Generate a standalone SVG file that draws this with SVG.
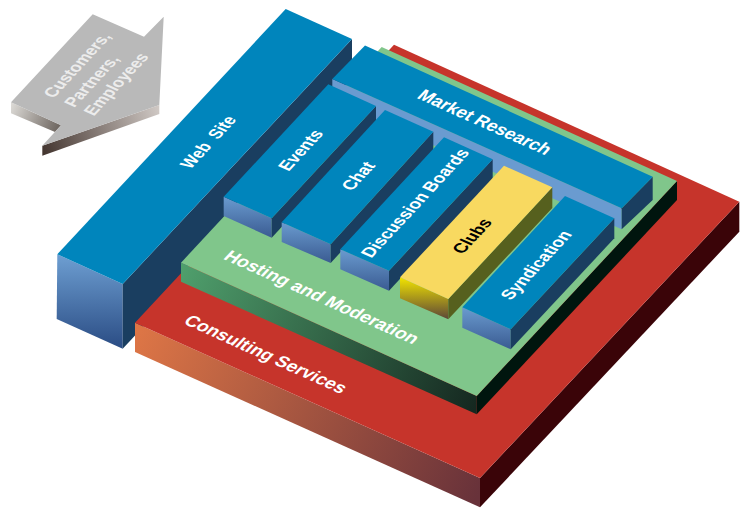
<svg xmlns="http://www.w3.org/2000/svg" width="745" height="508" viewBox="0 0 745 508">
<style>
.top{fill:#0085BC}.side{fill:#1A3E60}
text{font-family:"Liberation Sans",Arial,sans-serif;font-weight:bold;fill:#fff;text-anchor:middle;font-size:16px;white-space:pre}
.arrowtxt{fill:#ececec;font-size:15.5px}
</style>
<defs>
<linearGradient id="gWeb" x1="0" y1="0" x2="0" y2="1"><stop offset="0" stop-color="#6E9FD2"/><stop offset="1" stop-color="#2A4C84"/></linearGradient>
<linearGradient id="gCol" x1="0" y1="0" x2="0" y2="1"><stop offset="0" stop-color="#6A9BCF"/><stop offset="1" stop-color="#3A5B92"/></linearGradient>
<linearGradient id="gYel" x1="0" y1="0" x2="0" y2="1"><stop offset="0" stop-color="#F2E400"/><stop offset="1" stop-color="#5C4638"/></linearGradient>
<linearGradient id="gRed" gradientUnits="userSpaceOnUse" x1="135" y1="330" x2="480" y2="490"><stop offset="0" stop-color="#DE7646"/><stop offset="1" stop-color="#68323A"/></linearGradient>
<linearGradient id="gGreen" gradientUnits="userSpaceOnUse" x1="181" y1="270" x2="476" y2="405"><stop offset="0" stop-color="#4F9F6C"/><stop offset="1" stop-color="#152820"/></linearGradient>
<linearGradient id="gArL" gradientUnits="userSpaceOnUse" x1="11" y1="105" x2="61" y2="128"><stop offset="0" stop-color="#DCDAD6"/><stop offset="1" stop-color="#6A625C"/></linearGradient>
<linearGradient id="gArR" gradientUnits="userSpaceOnUse" x1="42" y1="150" x2="159" y2="110"><stop offset="0" stop-color="#43352F"/><stop offset="1" stop-color="#CFC8C4"/></linearGradient>
</defs>
<g id="customers">
<polygon points="11,102.3 61,125.3 55,132 11,113.3" fill="url(#gArL)"/>
<polygon points="42.3,145.7 159.3,105 159.3,114 42.3,155.7" fill="url(#gArR)"/>
<polygon points="92.7,14.3 144,36.7 163.7,16.7 159.3,105 42.3,145.7 61,125.3 11,102.3" fill="#B9B9B9"/>
<text class="arrowtxt" transform="matrix(.682 -.731 1.03 .46 77 65)" dy=".35em">Customers,</text>
<text class="arrowtxt" transform="matrix(.682 -.731 1.03 .46 91.5 81)" dy=".35em">Partners,</text>
<text class="arrowtxt" transform="matrix(.682 -.731 1.03 .46 116 84)" dy=".35em">Employees</text>
</g>
<g id="website">
<polygon points="57.3,254.3 122.7,284 122.7,348.7 56.7,319" fill="url(#gWeb)"/>
<polygon class="side" points="122.7,284 352,39 352,103 122.7,348.7"/>
<polygon class="top" points="285.7,9 352,39 122.7,284 57.3,254.3"/>
<text transform="matrix(.648 -.694 1.03 .46 208 142)" dy=".35em">Web  Site</text>
</g>
<g id="consulting">
<polygon points="135,322.7 480,478 480,507.3 135,352" fill="url(#gRed)"/>
<polygon points="480,478 739.3,201.7 739.3,231.7 480,507.3" fill="#3A0408"/>
<polygon points="135,322.7 394,44.7 739.3,201.7 480,478" fill="#C6342B"/>
<text transform="matrix(1.03 .46 -.77 .825 266 354)" dy=".35em">Consulting Services</text>
</g>
<g id="hosting">
<polygon points="181,262.7 476.7,396 476.7,414.3 181,281.7" fill="url(#gGreen)"/>
<polygon points="476.7,396 677,181 677,200 476.7,414.3" fill="#00150E"/>
<polygon points="181,262.7 381.7,47 677,181 476.7,396" fill="#80C68B"/>
<text transform="matrix(1.04 .47 -.77 .825 322 297)" dy=".35em">Hosting and Moderation</text>
</g>
<g id="market">
<polygon points="332.3,79 621.7,208.3 621.7,229.3 332.3,100" fill="#6A9BD0"/>
<polygon class="side" points="621.7,208.3 652.7,176.7 652.7,200 621.7,229.3"/>
<polygon class="top" points="332.3,79 365,45.5 652.7,176.7 621.7,208.3"/>
<text transform="matrix(1.01 .45 -.77 .825 485 122)" dy=".35em">Market Research</text>
</g>
<g id="events">
<polygon points="223.7,196.7 271.7,218.3 271.7,237.7 223.7,216" fill="url(#gCol)"/>
<polygon class="side" points="271.7,218.3 376,106 376,125 271.7,237.7"/>
<polygon class="top" points="223.7,196.7 328.3,84.3 376,106 271.7,218.3"/>
<text transform="matrix(.682 -.731 1.03 .46 300.5 150)" dy=".35em">Events</text>
</g>
<g id="chat">
<polygon points="281.7,222.3 330.7,244.3 330.7,263 281.7,242" fill="url(#gCol)"/>
<polygon class="side" points="330.7,244.3 433.3,131.7 433.3,151 330.7,263"/>
<polygon class="top" points="281.7,222.3 385,110 433.3,131.7 330.7,244.3"/>
<text transform="matrix(.682 -.731 1.03 .46 358 176)" dy=".35em">Chat</text>
</g>
<g id="discussion">
<polygon points="340.3,249.3 389,270.7 389,290.7 340.3,269.3" fill="url(#gCol)"/>
<polygon class="side" points="389,270.7 492.7,159.3 492.7,179 389,290.7"/>
<polygon class="top" points="340.3,249.3 444,137.3 492.7,159.3 389,270.7"/>
<text transform="matrix(.682 -.731 1.03 .46 415 203)" dy=".35em">Discussion Boards</text>
</g>
<g id="clubs">
<polygon points="400,277.3 448.3,299 448.3,319.3 400,298.3" fill="url(#gYel)"/>
<polygon points="448.3,299 552.3,187.3 552.3,208 448.3,319.3" fill="#56601E"/>
<polygon points="400,277.3 504,165.7 552.3,187.3 448.3,299" fill="#F8D960"/>
<text style="fill:#000" transform="matrix(.682 -.731 1.03 .46 472 236)" dy=".35em">Clubs</text>
</g>
<g id="syndication">
<polygon points="462.3,307.3 510.7,329.3 510.7,349.3 462.3,327.7" fill="url(#gCol)"/>
<polygon class="side" points="510.7,329.3 614.3,218.3 614.3,238.3 510.7,349.3"/>
<polygon class="top" points="462.3,307.3 565,196 614.3,218.3 510.7,329.3"/>
<text transform="matrix(.682 -.731 1.03 .46 536 265)" dy=".35em">Syndication</text>
</g>
</svg>
